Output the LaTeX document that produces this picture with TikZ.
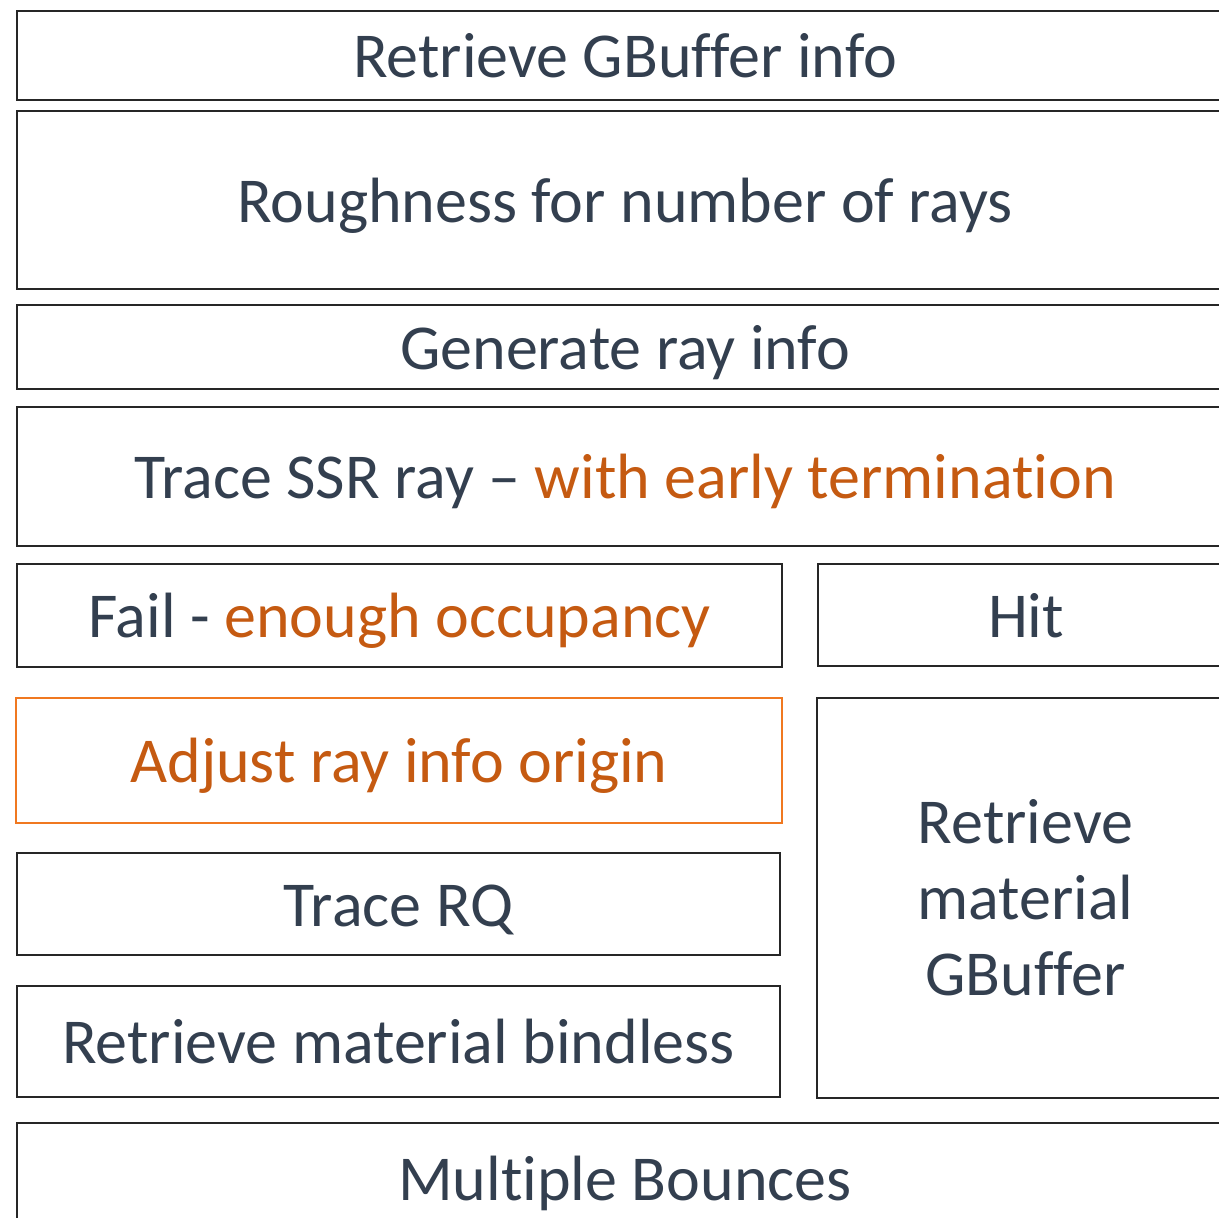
\documentclass[tikz,border=0pt]{standalone}
\usepackage{fontspec}
\setmainfont{Carlito}[Ligatures=NoCommon]
\definecolor{txt}{HTML}{333F4F}
\definecolor{orgtxt}{HTML}{C55A11}
\definecolor{orgline}{HTML}{F07820}
\definecolor{edge}{HTML}{262626}
\tikzset{
  stepbox/.style={draw=edge, line width=2pt, inner sep=0pt, outer sep=0pt, text=txt,
    font=\fontsize{64}{76}\selectfont, align=center},
  oneline/.style={stepbox, text height=44pt, text depth=0pt},
  hilite/.style={oneline, draw=orgline, text=orgtxt}
}
\begin{document}
\begin{tikzpicture}[x=1pt,y=-1pt]
\useasboundingbox (0,0) rectangle (1219,1218);
\node[oneline, minimum width=1216pt, minimum height=89pt] (gbuf) at (625,55.5) {Retrieve GBuffer info};
\node[oneline, minimum width=1216pt, minimum height=178pt] (rough) at (625,200) {Roughness for number of rays};
\node[oneline, minimum width=1216pt, minimum height=84pt] (gen) at (625,347) {Generate ray info};
\node[oneline, minimum width=1216pt, minimum height=139pt] (ssr) at (625,476.5) {Trace SSR ray -- \textcolor{orgtxt}{with early termination}};
\node[oneline, minimum width=765pt, minimum height=103pt] (fail) at (399.5,615.5) {Fail - \textcolor{orgtxt}{enough occupancy}};
\node[oneline, minimum width=416pt, minimum height=102pt] (hit) at (1026,615) {Hit};
\node[hilite, minimum width=766pt, minimum height=125pt] (adjust) at (399,760.5) {Adjust ray info origin};
\node[stepbox, minimum width=417pt, minimum height=400pt] (matg) at (1025.5,898) {Retrieve\\material\\GBuffer};
\node[oneline, minimum width=763pt, minimum height=102pt] (rq) at (398.5,904) {Trace RQ};
\node[oneline, minimum width=763pt, minimum height=111pt] (bindless) at (398.5,1041.5) {Retrieve material bindless};
\node[oneline, minimum width=1216pt, minimum height=110pt] (bounce) at (625,1178) {Multiple Bounces};
\end{tikzpicture}
\end{document}
